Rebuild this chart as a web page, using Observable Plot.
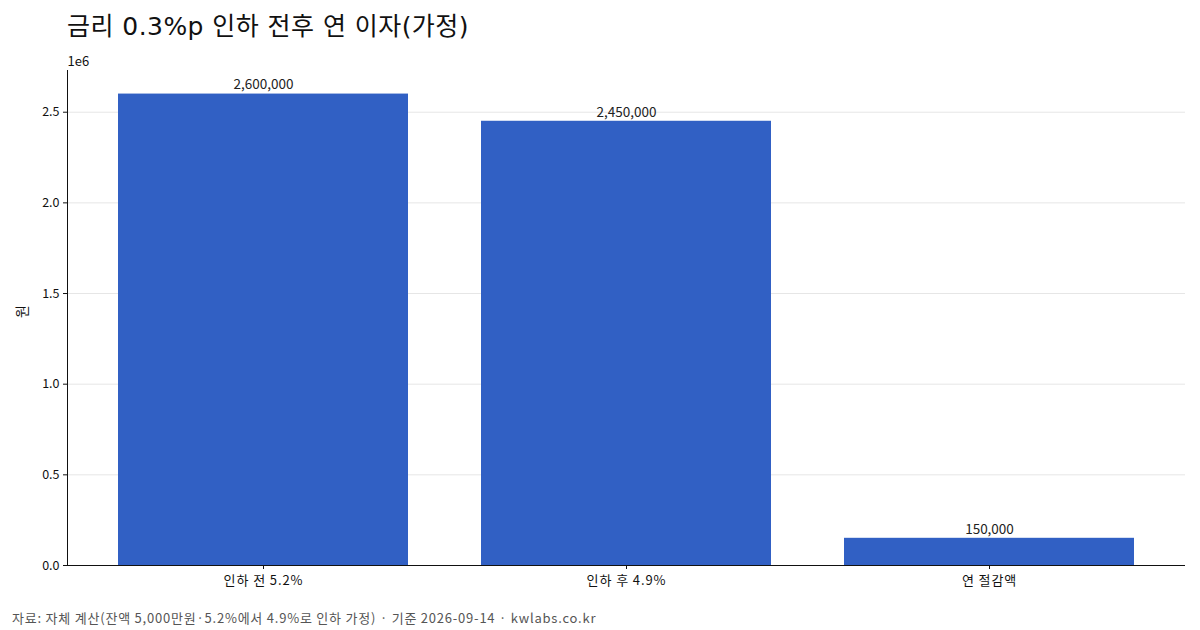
<!DOCTYPE html>
<html><head><meta charset="utf-8">
<script src="https://cdn.jsdelivr.net/npm/d3@7"></script>
<script src="https://cdn.jsdelivr.net/npm/@observablehq/plot@0.6"></script>
<style>
body{margin:0;background:#fff;font-family:"DejaVu Sans","Noto Sans CJK KR",sans-serif;}
#title{position:absolute;left:67px;top:9px;font-size:25px;color:#111;line-height:36px;white-space:nowrap;font-family:"DejaVu Sans","Noto Sans CJK KR",sans-serif;letter-spacing:0.45px;}
#chart{position:absolute;left:0;top:50px;}
#caption{position:absolute;left:12px;top:608px;font-size:13px;color:#555;line-height:20px;white-space:nowrap;font-family:"Noto Sans CJK KR",sans-serif;letter-spacing:0.78px;}
</style></head><body>
<div id="title">금리 0.3%p 인하 전후 연 이자(가정)</div>
<div id="chart"></div>
<div id="caption">자료: 자체 계산(잔액 5,000만원·5.2%에서 4.9%로 인하 가정) · 기준 2026-09-14 · kwlabs.co.kr</div>
<script>
const categories = ["인하 전 5.2%", "인하 후 4.9%", "연 절감액"];
const values = [2600000, 2450000, 150000];
const yTicks = [0, 500000, 1000000, 1500000, 2000000, 2500000];

const data = categories.map((c, i) => ({cat: c, val: values[i]}));
const fmt = d3.format(",");

const chart = Plot.plot({
  width: 1200,
  height: 550,
  marginLeft: 67,
  marginRight: 15,
  marginTop: 20,
  marginBottom: 35,
  style: {fontFamily: '"Noto Sans CJK KR","Noto Sans",sans-serif', fontSize: "12px", color: "#111"},
  x: {domain: categories, paddingInner: 0.2, paddingOuter: 0.138, label: null},
  y: {domain: [0, 2730000], label: null},
  marks: [
    Plot.gridY(yTicks, {stroke: "#e6e6e6", strokeOpacity: 1}),
    Plot.barY(data, {x: "cat", y: "val", fill: "#3160c4"}),
    Plot.text(data, {x: "cat", y: "val", text: d => fmt(d.val), dy: -9, fontSize: 13.5, fill: "#222"}),
    Plot.axisY(yTicks, {tickFormat: d => (d / 1e6).toFixed(1), tickSize: 4, tickPadding: 4, fontSize: 12.5}),
    Plot.axisX({tickSize: 4, tickPadding: 6, fontSize: 13, label: null, fontFamily: '"Noto Sans CJK KR",sans-serif'}),
    Plot.text(["원"], {frameAnchor: "left", dx: -45, rotate: -90, fontSize: 14, fill: "#111"}),
    Plot.ruleY([0], {stroke: "#111"}),
    Plot.frame({anchor: "left", stroke: "#111"}),
    Plot.text(["1e6"], {frameAnchor: "top-left", dy: -14, dx: 0, fontSize: 13, textAnchor: "start", fill: "#111"})
  ]
});
chart.querySelectorAll("g[aria-label='x-axis tick label'] text").forEach(t => t.setAttribute("letter-spacing", "0.9px"));
document.getElementById("chart").appendChild(chart);
</script>
</body></html>
